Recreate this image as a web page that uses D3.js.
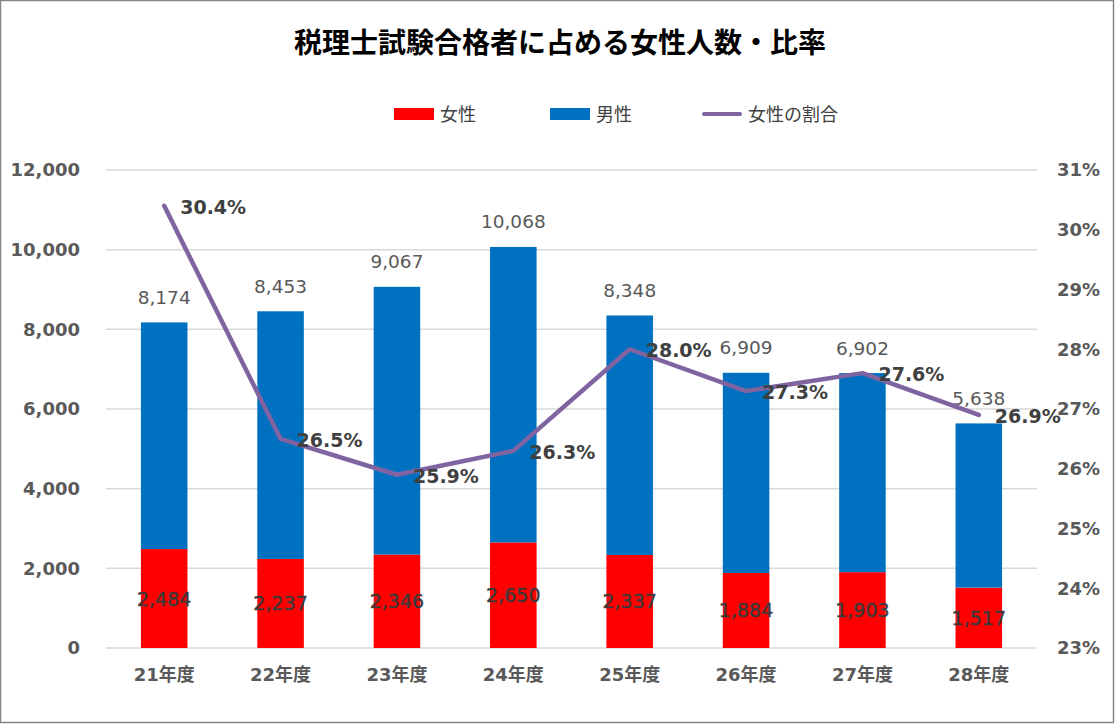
<!DOCTYPE html>
<html><head><meta charset="utf-8">
<script src="https://cdn.jsdelivr.net/npm/d3@7"></script>
<style>
html,body{margin:0;padding:0;background:#fff;}
svg{display:block;font-family:"DejaVu Sans","Noto Sans CJK JP",sans-serif;}
</style></head>
<body>
<svg id="chart" width="1115" height="724"></svg>
<script>
const categories = ["21年度","22年度","23年度","24年度","25年度","26年度","27年度","28年度"];
const women = [2484, 2237, 2346, 2650, 2337, 1884, 1903, 1517];
const totals = [8174, 8453, 9067, 10068, 8348, 6909, 6902, 5638];
const ratios = [30.4, 26.5, 25.9, 26.3, 28.0, 27.3, 27.6, 26.9];
const leftTicks = [0, 2000, 4000, 6000, 8000, 10000, 12000];
const rightTicks = [23, 24, 25, 26, 27, 28, 29, 30, 31];
const legendItems = ["女性", "男性", "女性の割合"];
const titleText = "税理士試験合格者に占める女性人数・比率";
const men = totals.map((t, i) => t - women[i]);

const svg = d3.select("#chart");
const W = 1115, H = 724;
const plot = {left: 106, right: 1037, top: 170, bottom: 648};

svg.append("rect").attr("x", 0.5).attr("y", 0.5).attr("width", W - 2).attr("height", H - 2)
  .attr("fill", "#fff").attr("stroke", "#868686").attr("stroke-width", 1.5);

const x = d3.scaleBand().domain(categories).range([plot.left, plot.right]).paddingInner(0.6).paddingOuter(0.3);
const y = d3.scaleLinear().domain([0, 12000]).range([plot.bottom, plot.top]);
const y2 = d3.scaleLinear().domain([23, 31]).range([plot.bottom, plot.top]);

// gridlines
svg.append("g").selectAll("line").data(leftTicks).join("line")
  .attr("x1", plot.left).attr("x2", plot.right)
  .attr("y1", d => y(d)).attr("y2", d => y(d))
  .attr("stroke", "#d9d9d9").attr("stroke-width", 1.5);

// axes
const fmt = d3.format(",");
const leftAxis = svg.append("g").attr("transform", `translate(${plot.left},0)`)
  .call(d3.axisLeft(y).tickValues(leftTicks).tickFormat(fmt).tickSize(0).tickPadding(26));
const rightAxis = svg.append("g").attr("transform", `translate(${plot.right},0)`)
  .call(d3.axisRight(y2).tickValues(rightTicks).tickFormat(d => d + "%").tickSize(0).tickPadding(20));
const bottomAxis = svg.append("g").attr("transform", `translate(0,${plot.bottom})`)
  .call(d3.axisBottom(x).tickSize(0).tickPadding(20));
[leftAxis, rightAxis, bottomAxis].forEach(g => {
  g.select(".domain").remove();
  g.selectAll("text").attr("fill", "#595959").attr("font-size", 18).attr("font-weight", "bold")
    .attr("font-family", '"DejaVu Sans","Noto Sans CJK JP",sans-serif');
});

// bars
const bars = svg.append("g");
bars.selectAll(".w").data(categories).join("rect")
  .attr("x", d => x(d)).attr("width", x.bandwidth())
  .attr("y", (d, i) => y(women[i])).attr("height", (d, i) => y(0) - y(women[i]))
  .attr("fill", "#ff0000");
bars.selectAll(".m").data(categories).join("rect")
  .attr("x", d => x(d)).attr("width", x.bandwidth())
  .attr("y", (d, i) => y(women[i] + men[i])).attr("height", (d, i) => y(women[i]) - y(women[i] + men[i]))
  .attr("fill", "#0070c0");

// total labels
svg.append("g").selectAll("text").data(categories).join("text")
  .attr("x", d => x(d) + x.bandwidth() / 2)
  .attr("y", (d, i) => y(totals[i]) - 25)
  .attr("text-anchor", "middle").attr("dominant-baseline", "central")
  .attr("font-size", 18.5).attr("fill", "#595959")
  .text((d, i) => fmt(totals[i]));

// women labels
svg.append("g").selectAll("text").data(categories).join("text")
  .attr("x", d => x(d) + x.bandwidth() / 2)
  .attr("y", (d, i) => (y(0) + y(women[i])) / 2)
  .attr("text-anchor", "middle").attr("dominant-baseline", "central")
  .attr("font-size", 19).attr("fill", "#3a3a3a")
  .attr("stroke", "#3a3a3a").attr("stroke-width", 0.4)
  .text((d, i) => fmt(women[i]));

// line
const line = d3.line().x((d, i) => x(categories[i]) + x.bandwidth() / 2).y(d => y2(d));
svg.append("path").datum(ratios).attr("d", line)
  .attr("fill", "none").attr("stroke", "#8064a2").attr("stroke-width", 4.5)
  .attr("stroke-linejoin", "round").attr("stroke-linecap", "round");

// ratio labels
svg.append("g").selectAll("text").data(ratios).join("text")
  .attr("x", (d, i) => x(categories[i]) + x.bandwidth() / 2 + 16)
  .attr("y", d => y2(d) + 1)
  .attr("dominant-baseline", "central")
  .attr("font-size", 19).attr("font-weight", "bold").attr("fill", "#404040")
  .text(d => d.toFixed(1) + "%");

// title
svg.append("text").attr("x", 560).attr("y", 43)
  .attr("text-anchor", "middle").attr("dominant-baseline", "central")
  .attr("font-size", 28).attr("font-weight", "bold").attr("fill", "#000")
  .text(titleText);

// legend
const lg = svg.append("g");
const legendX = [394, 550, 702];
const colors = ["#ff0000", "#0070c0", "#8064a2"];
legendItems.forEach((name, i) => {
  if (i < 2) {
    lg.append("rect").attr("x", legendX[i]).attr("y", 108).attr("width", 40).attr("height", 12).attr("fill", colors[i]);
  } else {
    lg.append("line").attr("x1", legendX[i] + 2).attr("x2", legendX[i] + 38).attr("y1", 114).attr("y2", 114)
      .attr("stroke", colors[i]).attr("stroke-width", 4).attr("stroke-linecap", "round");
  }
  lg.append("text").attr("x", legendX[i] + 46).attr("y", 114).attr("dominant-baseline", "central")
    .attr("font-size", 18).attr("fill", "#404040").text(name);
});
</script>
</body></html>
